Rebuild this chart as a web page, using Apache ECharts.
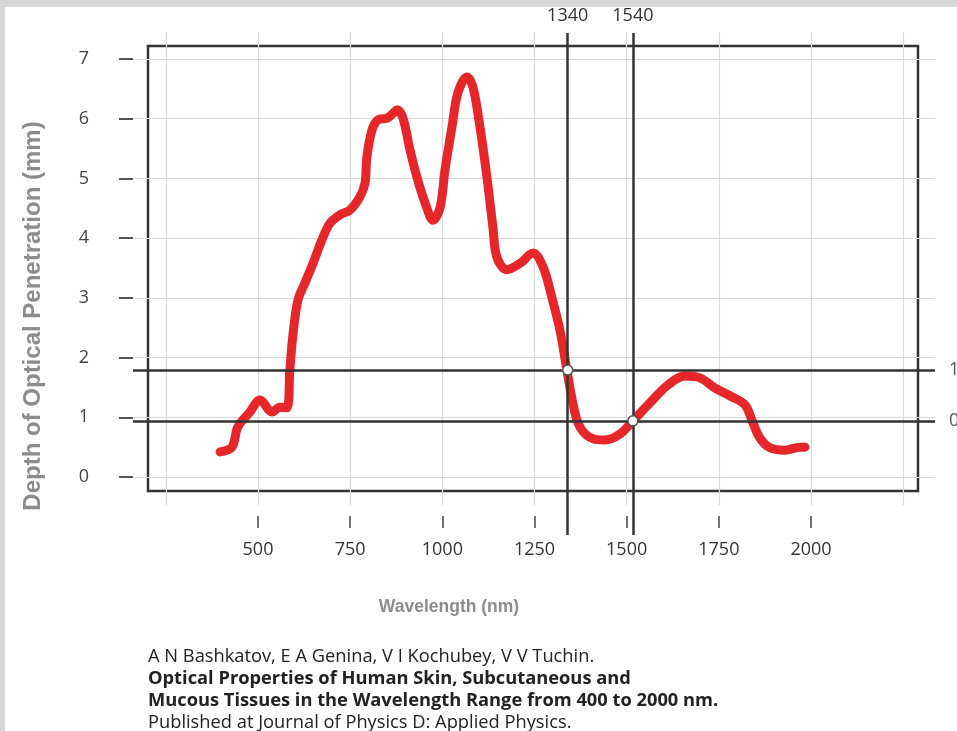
<!DOCTYPE html>
<html>
<head>
<meta charset="utf-8">
<script src="https://cdn.jsdelivr.net/npm/echarts@6/dist/echarts.min.js"></script>
<style>
html,body{margin:0;padding:0;background:#fff;}
#chart{width:957px;height:731px;}
</style>
</head>
<body>
<div id="chart"></div>
<script>
// Wavelength (nm)
const wavelengths = [397,429,445,478,505,538,559,578,586,595,608,627,649,673,695,722,749,776,790,795,809,825,850,866,877,893,912,931,953,975,994,1007,1026,1042,1067,1083,1102,1121,1137,1148,1175,1211,1246,1273,1297,1319,1338,1354,1373,1409,1441,1482,1517,1563,1612,1658,1699,1740,1780,1821,1840,1862,1889,1930,1970,1984];
// Depth of optical penetration (mm)
const depths = [0.42,0.50,0.84,1.09,1.29,1.09,1.17,1.16,1.79,2.41,2.96,3.25,3.58,3.97,4.25,4.39,4.47,4.69,4.92,5.35,5.81,5.98,6.01,6.09,6.15,6.01,5.48,5.02,4.59,4.30,4.52,5.14,5.86,6.43,6.70,6.53,5.86,5.02,4.19,3.68,3.47,3.58,3.75,3.52,3.01,2.46,1.79,1.24,0.84,0.64,0.62,0.72,0.94,1.24,1.54,1.69,1.66,1.49,1.36,1.21,0.95,0.65,0.49,0.45,0.50,0.50];
// reference lines
const refX = [1340, 1517];
const refXLabels = ['1340', '1540'];
const refY = [1.79, 0.94];
const refYLabels = ['1.79', '0.94'];
// ticks
const xTickMin = 500, xTickMax = 2000, xTickStep = 250;
const yTickMin = 0, yTickMax = 7, yTickStep = 1;
const citation = [
  ['A N Bashkatov, E A Genina, V I Kochubey, V V Tuchin.', 'normal'],
  ['Optical Properties of Human Skin, Subcutaneous and', 'bold'],
  ['Mucous Tissues in the Wavelength Range from 400 to 2000 nm.', 'bold'],
  ['Published at Journal of Physics D: Applied Physics.', 'normal']
];

const curve = wavelengths.map((w, i) => [w, depths[i]]);
const hidden = {axisLine:{show:false}, axisTick:{show:false}, axisLabel:{show:false}, splitLine:{show:false}};
const font = '"Open Sans", sans-serif';

const chart = echarts.init(document.getElementById('chart'), null, {renderer:'canvas'});
const option = {
  animation: false,
  backgroundColor: '#fff',
  grid: [
    {left:166, top:32, width:737, height:473},          // vertical gridlines
    {left:133, top:59, width:802, height:418},          // horizontal gridlines + y ticks
    {left:258, top:400, width:553, height:116},         // x ticks
    {left:148, top:46, width:770, height:445, show:true, borderColor:'#333', borderWidth:2.5, backgroundColor:'transparent'}, // frame
    {left:133, top:33, width:802, height:502}           // data
  ],
  xAxis: [
    Object.assign({}, hidden, {gridIndex:0, type:'value', min:250, max:2250, interval:250,
      splitLine:{show:true, lineStyle:{color:'#dadada', width:1.2}}}),
    Object.assign({}, hidden, {gridIndex:1, type:'value', min:0, max:1}),
    {gridIndex:2, type:'value', min:xTickMin, max:xTickMax, interval:xTickStep, position:'bottom',
      axisLine:{show:false}, splitLine:{show:false},
      axisTick:{show:true, length:12, lineStyle:{color:'#444', width:1.5}},
      axisLabel:{show:true, margin:25, fontSize:18, color:'#333', fontFamily:font, formatter:(v)=>String(v)}},
    Object.assign({}, hidden, {gridIndex:3, type:'value', min:0, max:1}),
    Object.assign({}, hidden, {gridIndex:4, type:'value', min:160.45, max:2336.8})
  ],
  yAxis: [
    Object.assign({}, hidden, {gridIndex:0, type:'value', min:0, max:1}),
    {gridIndex:1, type:'value', min:yTickMin, max:yTickMax, interval:yTickStep, position:'left', offset:16,
      axisLine:{show:false},
      axisTick:{show:true, length:14, lineStyle:{color:'#555', width:2}},
      axisLabel:{show:true, margin:28, fontSize:18, color:'#444', fontFamily:font},
      splitLine:{show:true, lineStyle:{color:'#dadada', width:1.2}}},
    Object.assign({}, hidden, {gridIndex:2, type:'value', min:0, max:1}),
    Object.assign({}, hidden, {gridIndex:3, type:'value', min:0, max:1}),
    Object.assign({}, hidden, {gridIndex:4, type:'value', min:-0.9714, max:7.436})
  ],
  series: [{
    type:'line', xAxisIndex:4, yAxisIndex:4, data:curve, smooth:0.35,
    showSymbol:false, silent:true, clip:false,
    lineStyle:{color:'#e5262b', width:9, cap:'round', join:'round'},
    markLine:{
      silent:true, symbol:'none', animation:false,
      lineStyle:{color:'#333', width:2.5, type:'solid'},
      label:{show:true, position:'end', fontSize:18, color:'#333', fontFamily:font},
      data: refX.map((v,i)=>({xAxis:v, label:{formatter:refXLabels[i], distance:8}}))
        .concat(refY.map((v,i)=>({yAxis:v, label:{formatter:refYLabels[i], distance:14, color:'#555'}})))
    },
    markPoint:{
      silent:true, symbol:'circle', symbolSize:10,
      itemStyle:{color:'#fff', borderColor:'#555', borderWidth:1.5},
      label:{show:false},
      data:[{coord:[refX[0], refY[0]]}, {coord:[refX[1], refY[1]]}]
    }
  }],
  graphic: [
    {type:'rect', shape:{x:0, y:0, width:957, height:7}, style:{fill:'#d6d6d6'}, silent:true},
    {type:'rect', shape:{x:0, y:0, width:5, height:731}, style:{fill:'#d6d6d6'}, silent:true},
    {type:'text', x:33, y:316, rotation:Math.PI/2, style:{text:'Depth of Optical Penetration (mm)', font:'bold 24px "Liberation Sans", Arial, sans-serif', fill:'#8c8c8c', textAlign:'center', textVerticalAlign:'middle'}},
    {type:'text', x:449, y:607, style:{text:'Wavelength (nm)', font:'bold 17.5px "Liberation Sans", Arial, sans-serif', fill:'#8c8c8c', textAlign:'center', textVerticalAlign:'middle'}}
  ].concat(citation.map((c,i)=>({
    type:'text', x:148, y:657 + i*22,
    style:{text:c[0], font:c[1] + ' 18.3px "Open Sans", sans-serif', fill:'#222', textAlign:'left', textVerticalAlign:'middle'}
  })))
};
chart.setOption(option);
</script>
</body>
</html>
